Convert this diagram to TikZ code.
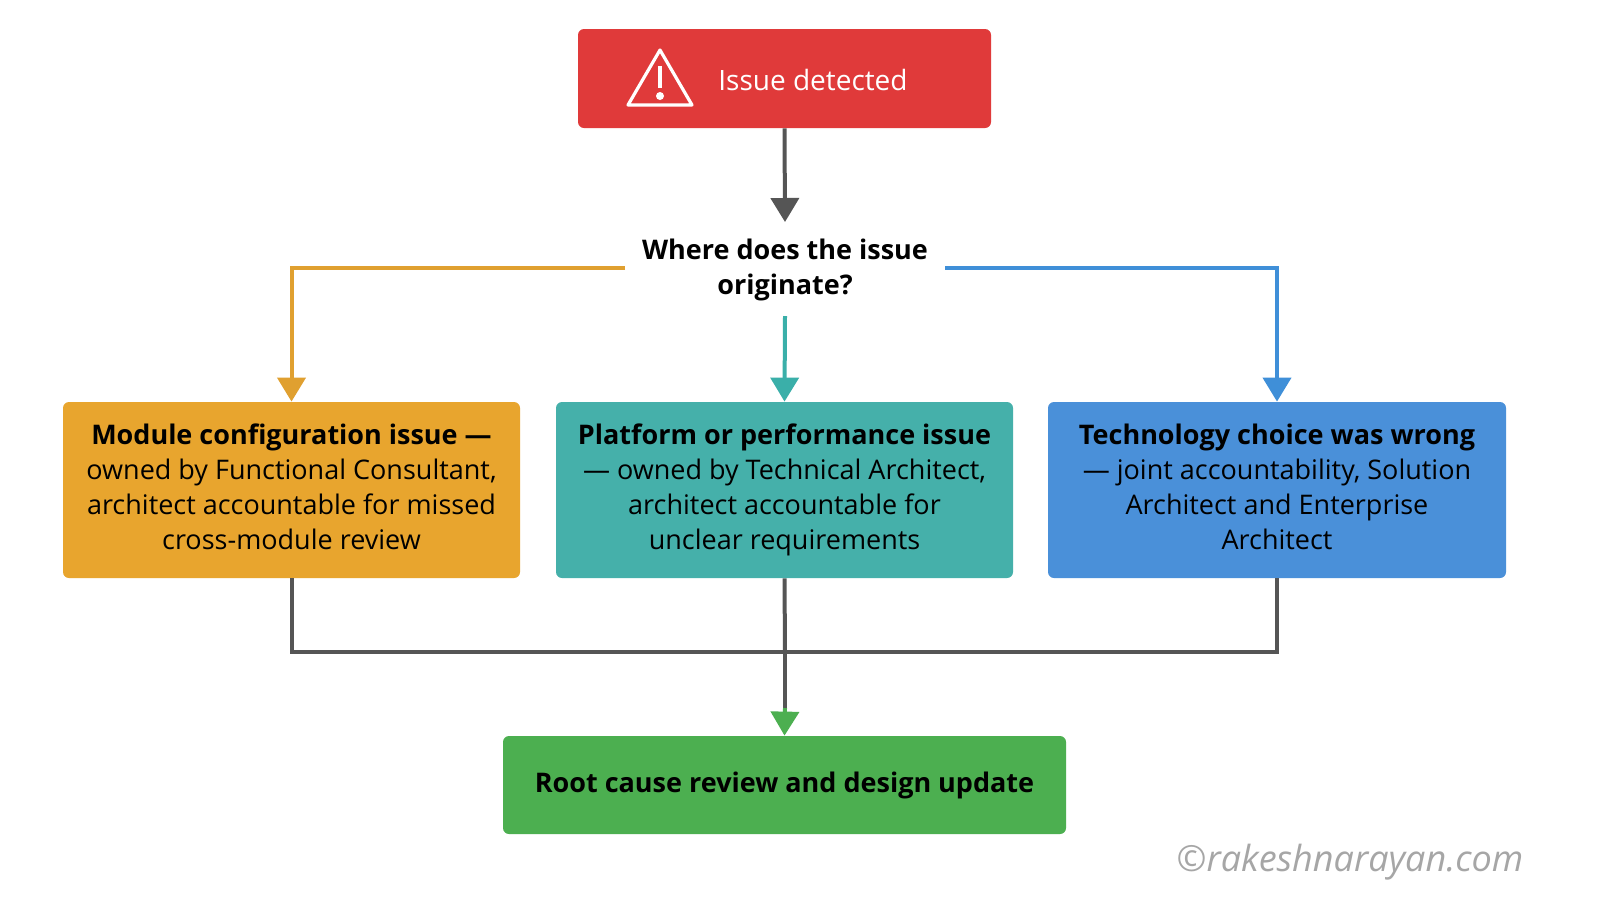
\documentclass[tikz,border=0pt]{standalone}
\usepackage{fontspec}
\setmainfont{Open Sans}
\usetikzlibrary{arrows.meta}
\definecolor{cred}{HTML}{E03A3A}
\definecolor{corg}{HTML}{E8A52E}
\definecolor{cteal}{HTML}{45B0AA}
\definecolor{cblue}{HTML}{4A90D9}
\definecolor{cgreen}{HTML}{4CAF50}
\definecolor{cgray}{HTML}{555555}
\definecolor{lorg}{HTML}{E0A030}
\definecolor{lteal}{HTML}{3AAFA9}
\definecolor{lblue}{HTML}{3F8FD8}
\newcommand{\ls}{\strut}
\begin{document}
\begin{tikzpicture}[x=0.5pt,y=-0.5pt,
  box/.style={rounded corners=3pt,inner sep=0pt,align=center,font=\fontsize{13.5}{17.5}\selectfont},
  conn/.style={line width=2pt,-{Triangle[width=14pt,length=12pt]}},
  plain/.style={line width=2pt}]
\useasboundingbox (0,0) rectangle (1600,901);
\fill[white] (0,0) rectangle (1600,901);
\node[box,fill=cred,minimum width=206.5pt,minimum height=49.5pt] (top) at (784.5,78.5) {};
\node[text=white,font=\fontsize{14}{17}\selectfont] (toptxt) at (813,80) {Issue detected};
\draw[white,line width=1.6pt,line join=round] (660,50) -- (692,105) -- (628,105) -- cycle;
\draw[white,line width=1.8pt] (660,66) -- (660,88);
\fill[white] (660,96) circle (2pt);
\node[font=\bfseries\fontsize{13.5}{17.5}\selectfont,align=center] (q) at (785,270) {Where does the issue\\originate?};
\node[box,fill=corg,minimum width=228.5pt,minimum height=88pt] (m) at (291.5,490) {\ls\textbf{Module configuration issue —}\\\ls owned by Functional Consultant,\\\ls architect accountable for missed\\\ls cross-module review};
\node[box,fill=cteal,minimum width=228.5pt,minimum height=88pt] (p) at (784.5,490) {\ls\textbf{Platform or performance issue}\\\ls— owned by Technical Architect,\\\ls architect accountable for\\\ls unclear requirements};
\node[box,fill=cblue,minimum width=229pt,minimum height=88pt] (t) at (1277,490) {\ls\textbf{Technology choice was wrong}\\\ls— joint accountability, Solution\\\ls Architect and Enterprise\\\ls Architect};
\node[box,fill=cgreen,minimum width=281.5pt,minimum height=49pt] (g) at (784.5,785) {\textbf{Root cause review and design update}};
\coordinate (ql) at (625,268);
\coordinate (qr) at (945,268);
\coordinate (qb) at (785,316);
\coordinate (j) at (785,652);
\draw[conn,cgray] (top.south) -- (785,222);
\draw[conn,lorg] (ql) -| (m.north);
\draw[conn,lblue] (qr) -| (t.north);
\draw[conn,lteal] (qb) -- (p.north);
\draw[plain,cgray] (m.south) |- (j) -| (t.south);
\draw[plain,cgray] (p.south) -- (j);
\draw[plain,cgray] (j) -- (785,712);
\draw[conn,cgreen] (785,708) -- (g.north);
\node[text=gray!70,font=\itshape\fontsize{18}{20}\selectfont] (wm) at (1350,862) {©rakeshnarayan.com};
\end{tikzpicture}
\end{document}
